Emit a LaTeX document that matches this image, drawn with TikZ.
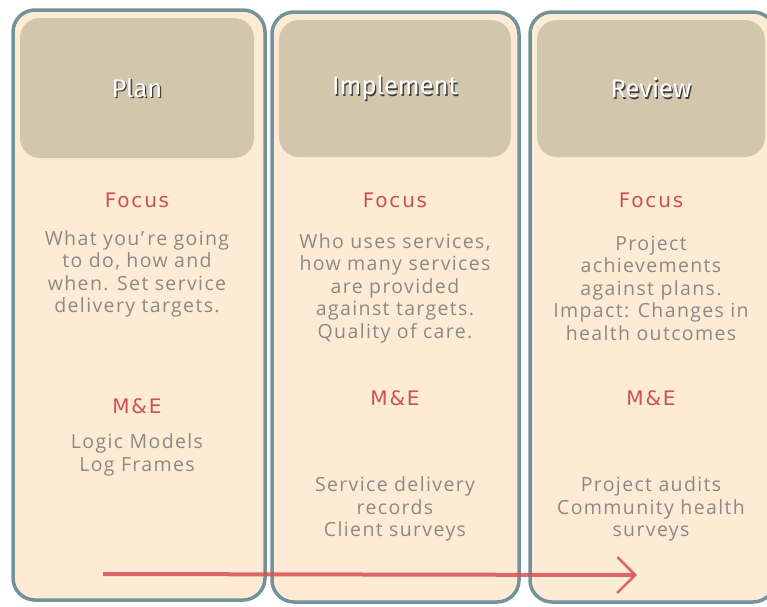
\documentclass[tikz,border=0pt]{standalone}
\usepackage{fontspec}
\setmainfont[LetterSpace=7]{Open Sans}
\newfontfamily\titlefont{Fira Sans}
\newfontfamily\tagfont[LetterSpace=9]{DejaVu Sans}
\usetikzlibrary{arrows.meta}

\definecolor{panelfill}{RGB}{253,235,214}
\definecolor{panelrim}{RGB}{116,146,154}
\definecolor{headerfill}{RGB}{210,198,172}
\definecolor{bodygrey}{RGB}{140,138,133}
\definecolor{tagred}{RGB}{206,80,84}
\definecolor{flowred}{RGB}{214,82,84}

\begin{document}
\begin{tikzpicture}[x=1pt, y=-1pt, font=\fontsize{19.5}{22.5}\selectfont,
  panel/.style={fill=panelfill, draw=panelrim, line width=3.5pt, rounded corners=22pt},
  header/.style={fill=headerfill, rounded corners=20pt},
  title/.style={text=white, font=\titlefont\fontsize{25.5}{28}\selectfont},
  titleshade/.style={text=black!75, font=\titlefont\fontsize{25.5}{28}\selectfont},
  tag/.style={text=tagred, font=\tagfont\fontsize{20}{22}\selectfont},
  body/.style={text=bodygrey, align=center},
  flow/.style={draw=flowred, opacity=0.85, line width=4pt, -{Straight Barb[length=18pt, width=36pt, line width=2.5pt]}}]

\useasboundingbox (0,0) rectangle (767,606);

% columns
\draw[panel] (13,10) rectangle (265,600) ;
\draw[panel] (272,12) rectangle (519,602) ;
\draw[panel] (530,12) rectangle (775,602) ;

% column headers
\path[header] (20,18) rectangle (254,158) ;
\path[header] (279,20) rectangle (511,157) ;
\path[header] (537,20) rectangle (765,157) ;

% header titles, with shadow
\path
(138.3,89.3) node[titleshade] (planshade) {Plan}
(396.3,89.3) node[titleshade] (implementshade) {Implement}
(652.3,89.3) node[titleshade] (reviewshade) {Review}
(137,88) node[title] (plan) {Plan}
(395,88) node[title] (implement) {Implement}
(651,88) node[title] (review) {Review}
;

% focus
\path
(137,200) node[tag] (planfocus) {Focus}
(395,200) node[tag] (implementfocus) {Focus}
(651,200) node[tag] (reviewfocus) {Focus}
;
\path
(137,274) node[body] (plantext) {What you'\,re going\\to do, how and\\when. Set service\\delivery targets.}
(395,288) node[body] (implementtext) {Who uses services,\\how many services\\are provided\\against targets.\\Quality of care.}
(651,288) node[body] (reviewtext) {Project\\achievements\\against plans.\\Impact: Changes in\\health outcomes}
;

% monitoring and evaluation
\path
(137,406) node[tag] (planme) {M\&E}
(395,398) node[tag] (implementme) {M\&E}
(651,398) node[tag] (reviewme) {M\&E}
;
\path
(137,455) node[body] (plantools) {Logic Models\\Log Frames}
(395,509) node[body] (implementtools) {Service delivery\\records\\Client surveys}
(651,509) node[body] (reviewtools) {Project audits\\Community health\\surveys}
;

% flow arrow
\coordinate (flowstart) at (103,574) ;
\coordinate (flowend) at (637,575) ;
\draw[flow] (flowstart) -- (flowend) ;

\end{tikzpicture}
\end{document}
